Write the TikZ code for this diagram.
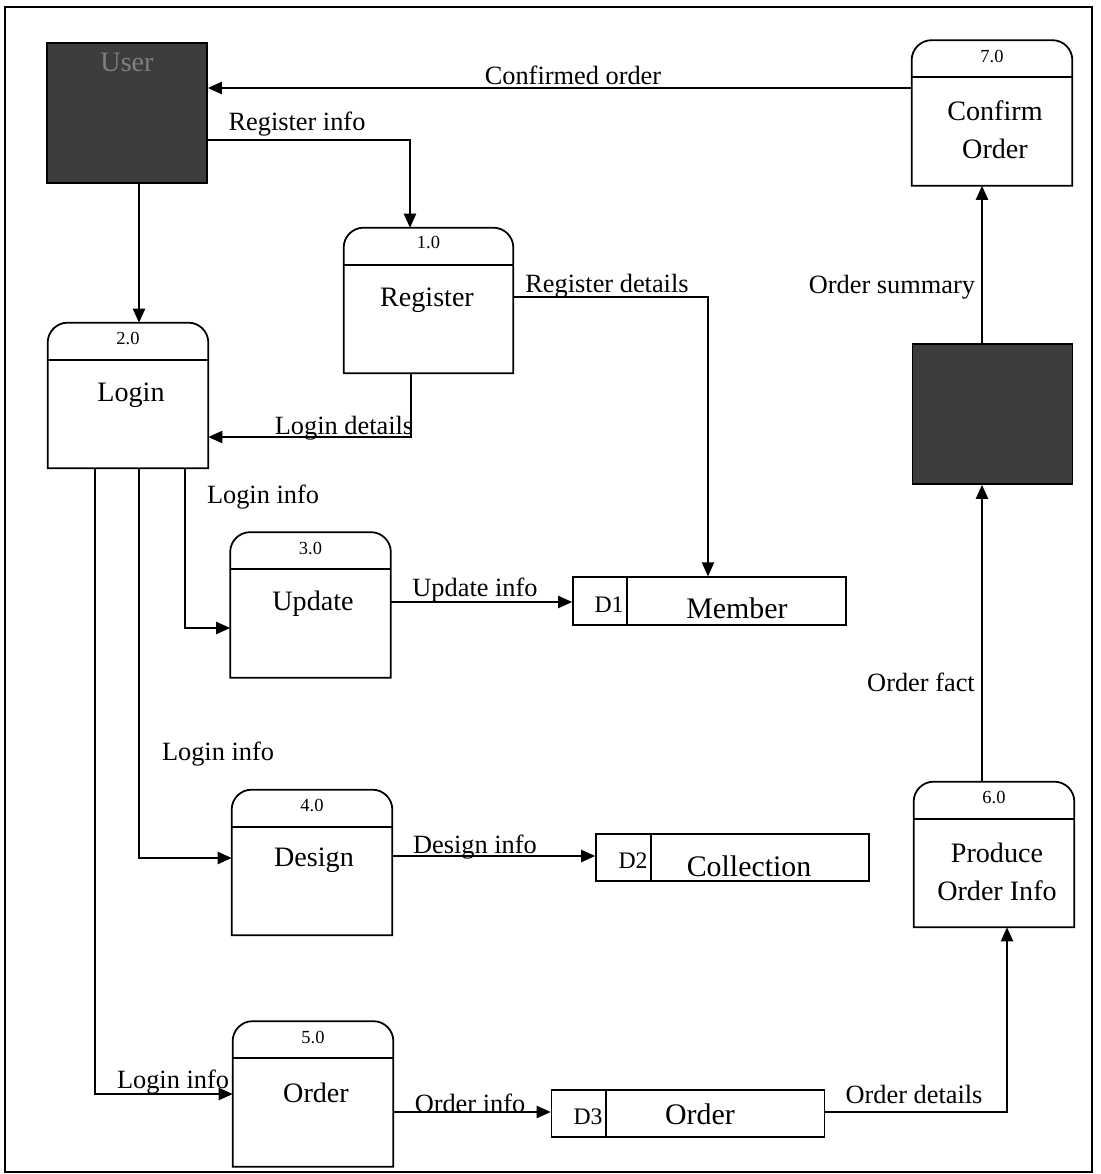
\documentclass[tikz,border=0pt]{standalone}
\usepackage{fontspec}
\setmainfont{Liberation Serif}
\usetikzlibrary{arrows.meta}

\tikzset{
  proc/.style={minimum width=3.2cm, minimum height=2.9cm, inner sep=0pt},
  entity/.style={draw, line width=1pt, fill=black!76, minimum width=3.2cm, minimum height=2.8cm, inner sep=0pt},
  store/.style={draw, line width=1pt, minimum width=5.46cm, minimum height=0.95cm, inner sep=0pt},
  flow/.style={line width=0.9pt, -{Triangle[length=8pt,width=7pt]}},
  flowlabel/.style={font=\fontsize{15}{17}\selectfont, inner sep=0pt},
  title/.style={font=\fontsize{16}{21.5}\selectfont, align=center, inner sep=0pt},
  num/.style={font=\fontsize{10.5}{12}\selectfont, inner sep=0pt},
  storeid/.style={font=\fontsize{13.5}{15}\selectfont, inner sep=0pt},
  storename/.style={font=\fontsize{17}{20}\selectfont, inner sep=0pt}
}

% outline of a process: rounded top corners and a line under the number
\newcommand{\procshape}[1]{%
  \draw[line width=1pt] (#1.south west) -- ([yshift=-0.4cm]#1.north west)
    arc[start angle=180, end angle=90, radius=0.4cm]
    -- ([xshift=-0.4cm]#1.north east)
    arc[start angle=90, end angle=0, radius=0.4cm]
    -- (#1.south east) -- cycle;
  \draw[line width=1pt] ([yshift=-0.74cm]#1.north west) -- ([yshift=-0.74cm]#1.north east);
}

\begin{document}
\begin{tikzpicture}[x=0.02cm, y=-0.02cm]
  \useasboundingbox (0,0) rectangle (1100,1174);
  \draw[line width=1pt] (5,7) rectangle (1092,1172);

  % external entities
  \node[entity] (user) at (127,113) {};
  \node[title, text=black!50] (usertext) at (127,62) {User};
  \node[entity] (summary) at (992.5,414) {};

  % processes
  \node[proc, minimum width=3.38cm] (p1) at (428.5,300.5) {};
  \procshape{p1}
  \node[num] (p1n) at (428.5,242) {1.0};
  \node[title] (p1t) at (427,300) {Register};

  \node[proc] (p2) at (128,395.5) {};
  \procshape{p2}
  \node[num] (p2n) at (128,338) {2.0};
  \node[title] (p2t) at (131,395) {Login};

  \node[proc] (p3) at (310.5,605) {};
  \procshape{p3}
  \node[num] (p3n) at (310.5,548) {3.0};
  \node[title] (p3t) at (313,604) {Update};

  \node[proc] (p4) at (312,862.5) {};
  \procshape{p4}
  \node[num] (p4n) at (312,805) {4.0};
  \node[title] (p4t) at (314,860) {Design};

  \node[proc] (p5) at (313,1094) {};
  \procshape{p5}
  \node[num] (p5n) at (313,1037) {5.0};
  \node[title] (p5t) at (316,1093) {Order};

  \node[proc] (p6) at (994,854.5) {};
  \procshape{p6}
  \node[num] (p6n) at (994,797) {6.0};
  \node[title] (p6t) at (997,872) {Produce\\Order Info};

  \node[proc] (p7) at (992,113) {};
  \procshape{p7}
  \node[num] (p7n) at (992,56) {7.0};
  \node[title] (p7t) at (995,130) {Confirm\\Order};

  % data stores
  \node[store] (d1) at (709.5,601) {};
  \draw[line width=1pt] (627,0 |- d1.north) -- (627,0 |- d1.south);
  \node[storeid] (d1id) at (609,605) {D1};
  \node[storename] (d1t) at (737,608) {Member};

  \node[store] (d2) at (732.5,857.5) {};
  \draw[line width=1pt] (651,0 |- d2.north) -- (651,0 |- d2.south);
  \node[storeid] (d2id) at (633,861) {D2};
  \node[storename] (d2t) at (749,866) {Collection};

  \node[store] (d3) at (688,1113.5) {};
  \draw[line width=1pt] (606,0 |- d3.north) -- (606,0 |- d3.south);
  \node[storeid] (d3id) at (588,1117) {D3};
  \node[storename] (d3t) at (700,1114) {Order};

  % data flows
  \draw[flow] (p7.west |- 0,88) -- (user.east |- 0,88);
  \node[flowlabel] (lconf) at (573,75) {Confirmed order};

  \draw[flow] (user.east |- 0,140) -| (410,0 |- p1.north);
  \node[flowlabel] (lreg) at (297,124) {Register info};

  \draw[flow] (139,0 |- user.south) -- (139,0 |- p2.north);

  \draw[flow] (p1.east |- 0,297) -| (708,0 |- d1.north);
  \node[flowlabel] (lregd) at (607,286) {Register details};

  \draw[flow] (411,0 |- p1.south) |- (p2.east |- 0,437);
  \node[flowlabel] (llogd) at (344,428) {Login details};

  \draw[flow] (185,0 |- p2.south) |- (p3.west |- 0,628);
  \node[flowlabel] (llog1) at (263,497) {Login info};

  \draw[flow] (p3.east |- 0,602) -- (d1.west |- 0,602);
  \node[flowlabel] (lupd) at (475,590) {Update info};

  \draw[flow] (139,0 |- p2.south) |- (p4.west |- 0,858);
  \node[flowlabel] (llog2) at (218,754) {Login info};

  \draw[flow] (p4.east |- 0,856) -- (d2.west |- 0,856);
  \node[flowlabel] (ldes) at (475,847) {Design info};

  \draw[flow] (95,0 |- p2.south) |- (p5.west |- 0,1094);
  \node[flowlabel] (llog3) at (173,1082) {Login info};

  \draw[flow] (p5.east |- 0,1112) -- (d3.west |- 0,1112);
  \node[flowlabel] (lord) at (470,1103) {Order info};

  \draw[flow] (d3.east |- 0,1112) -| (1007,0 |- p6.south);
  \node[flowlabel] (lordd) at (914,1094) {Order details};

  \draw[flow] (982,0 |- p6.north) -- (982,0 |- summary.south);
  \node[flowlabel] (lfact) at (921,682) {Order fact};

  \draw[flow] (982,0 |- summary.north) -- (982,0 |- p7.south);
  \node[flowlabel] (lsum) at (892,287) {Order summary};
\end{tikzpicture}
\end{document}
